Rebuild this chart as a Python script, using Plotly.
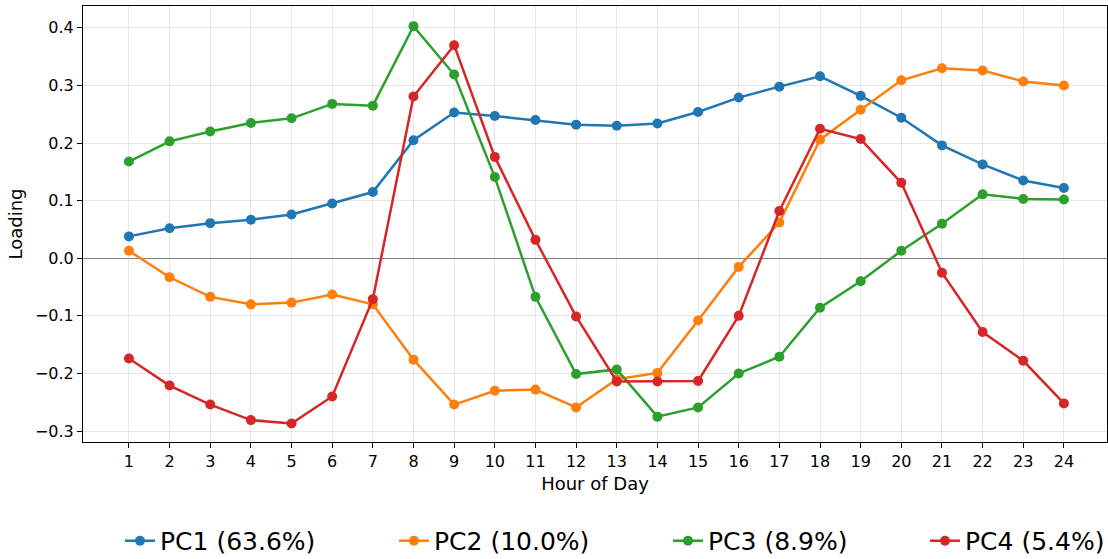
import plotly.graph_objects as go

hours = list(range(1, 25))
pc1 = [0.038, 0.052, 0.061, 0.067, 0.076, 0.095, 0.115, 0.205, 0.253, 0.247, 0.240, 0.232,
       0.230, 0.234, 0.254, 0.279, 0.298, 0.316, 0.282, 0.244, 0.196, 0.163, 0.135, 0.122]
pc2 = [0.013, -0.033, -0.067, -0.080, -0.077, -0.063, -0.080, -0.176, -0.254, -0.230, -0.228, -0.259,
       -0.210, -0.199, -0.108, -0.015, 0.062, 0.206, 0.258, 0.309, 0.330, 0.326, 0.307, 0.300]
pc3 = [0.168, 0.203, 0.220, 0.235, 0.243, 0.268, 0.265, 0.403, 0.319, 0.141, -0.067, -0.201,
       -0.193, -0.275, -0.259, -0.200, -0.171, -0.086, -0.040, 0.013, 0.060, 0.111, 0.103, 0.102]
pc4 = [-0.174, -0.221, -0.254, -0.281, -0.287, -0.240, -0.071, 0.281, 0.370, 0.176, 0.032, -0.101,
       -0.214, -0.214, -0.213, -0.100, 0.082, 0.225, 0.207, 0.131, -0.025, -0.128, -0.178, -0.252]
series_names = ["PC1 (63.6%)", "PC2 (10.0%)", "PC3 (8.9%)", "PC4 (5.4%)"]
y_tickvals = [-0.3, -0.2, -0.1, 0.0, 0.1, 0.2, 0.3, 0.4]
y_ticktext = ["\u22120.3", "\u22120.2", "\u22120.1", "0.0", "0.1", "0.2", "0.3", "0.4"]

colors = ["#1f77b4", "#ff7f0e", "#2ca02c", "#d62728"]
series = [pc1, pc2, pc3, pc4]
legend_ids = ["legend", "legend2", "legend3", "legend4"]
plot_left, plot_w = 83, 1024
text_starts = [160, 434, 708, 965]

fig = go.Figure()
for name, vals, col, lid in zip(series_names, series, colors, legend_ids):
    fig.add_trace(go.Scatter(
        x=hours, y=vals, mode="lines+markers", name=name,
        line=dict(color=col, width=2.5),
        marker=dict(color=col, size=10),
        legend=lid,
    ))

FONT = "DejaVu Sans"
legend_common = dict(
    orientation="h", yanchor="middle", y=-0.227, xanchor="left",
    font=dict(family=FONT, size=25, color="#000"),
    bgcolor="rgba(0,0,0,0)", itemwidth=30,
)
layout_legends = {}
for lid, ts in zip(legend_ids, text_starts):
    layout_legends[lid] = dict(legend_common, x=(ts - 40 - plot_left) / plot_w)

grid_col = "rgba(176,176,176,0.3)"
fig.update_layout(
    width=1108, height=559,
    margin=dict(l=83, r=1, t=6, b=117, autoexpand=False),
    paper_bgcolor="white", plot_bgcolor="white",
    font=dict(family=FONT, size=16, color="#000"),
    showlegend=True,
    **layout_legends,
)
fig.update_xaxes(
    range=[-0.13, 25.06], tickvals=hours, ticktext=[str(h) for h in hours],
    showgrid=True, gridcolor=grid_col, gridwidth=1,
    zeroline=False,
    showline=True, linecolor="#000", linewidth=1, mirror=True,
    ticks="outside", ticklen=5, tickcolor="#000",
    tickfont=dict(family=FONT, size=16, color="#000"),
    title=dict(text="Hour of Day", font=dict(family=FONT, size=18, color="#000"), standoff=7),
    automargin=False,
)
fig.update_yaxes(
    range=[-0.319, 0.438], tickvals=y_tickvals, ticktext=y_ticktext,
    showgrid=True, gridcolor=grid_col, gridwidth=1,
    zeroline=True, zerolinecolor="#808080", zerolinewidth=1,
    showline=True, linecolor="#000", linewidth=1, mirror=True,
    ticks="outside", ticklen=5, tickcolor="#000",
    tickfont=dict(family=FONT, size=16, color="#000"),
    title=dict(text="Loading", font=dict(family=FONT, size=18, color="#000"), standoff=7),
    automargin=False,
)
fig.write_html("out.html")
